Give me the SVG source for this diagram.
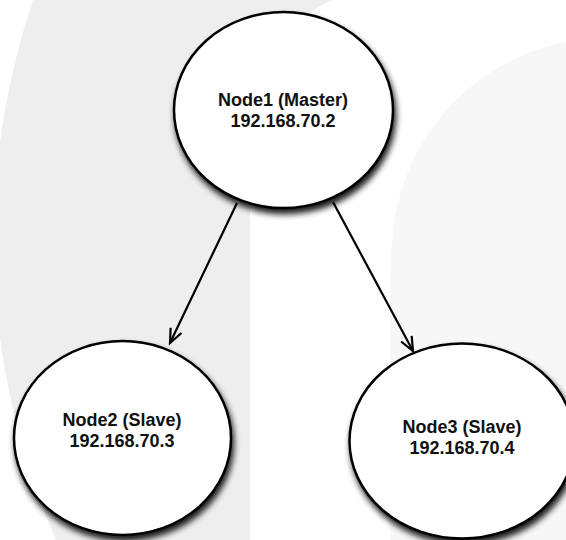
<svg xmlns="http://www.w3.org/2000/svg" width="566" height="540" viewBox="0 0 566 540">
<style>
.node ellipse{fill:#fff;stroke:#000;stroke-width:2.5;filter:url(#sh)}
.node text{font-family:"Liberation Sans",Arial,sans-serif;font-weight:bold;font-size:18px;fill:#111;text-anchor:middle}
.edge{stroke:#000;stroke-width:2.2;fill:none;marker-end:url(#arr)}
</style>
<defs>
<filter id="sh" x="-20%" y="-20%" width="140%" height="140%">
<feGaussianBlur in="SourceAlpha" stdDeviation="3"/>
<feOffset dx="2" dy="5" result="b"/>
<feComponentTransfer in="b" result="c"><feFuncA type="linear" slope="0.9"/></feComponentTransfer>
<feMerge><feMergeNode in="c"/><feMergeNode in="SourceGraphic"/></feMerge>
</filter>
<marker id="arr" markerUnits="userSpaceOnUse" markerWidth="20" markerHeight="20" refX="0" refY="0" viewBox="-16 -10 20 20" orient="auto">
<path d="M-14,-6 L0,0 L-14,6" fill="none" stroke="#000" stroke-width="2.2"/>
</marker>
</defs>
<rect width="566" height="540" fill="#fff"/>
<g id="background">
<path d="M33,0 H333 C300,10 262,60 250,150 V540 H56 A752,752 0 0 1 33,0 Z" fill="#eeeeee"/>
<path d="M566,42 C480,58 405,130 393,230 Q390,262 390,300 V540 H566 Z" fill="#f7f7f7"/>
</g>
<g id="connectors">
<path class="edge" d="M237,203 L170,343"/>
<path class="edge" d="M333,202 L413,351"/>
</g>
<g id="node1" class="node">
<ellipse cx="283.5" cy="110" rx="109.5" ry="98"/>
<text x="283" y="106">Node1 (Master)</text>
<text x="283" y="127">192.168.70.2</text>
</g>
<g id="node2" class="node">
<ellipse cx="122.5" cy="438" rx="108.5" ry="97"/>
<text x="122" y="426">Node2 (Slave)</text>
<text x="122" y="447">192.168.70.3</text>
</g>
<g id="node3" class="node">
<ellipse cx="462" cy="441" rx="112.5" ry="97.5"/>
<text x="462" y="433">Node3 (Slave)</text>
<text x="462" y="454">192.168.70.4</text>
</g>
</svg>
